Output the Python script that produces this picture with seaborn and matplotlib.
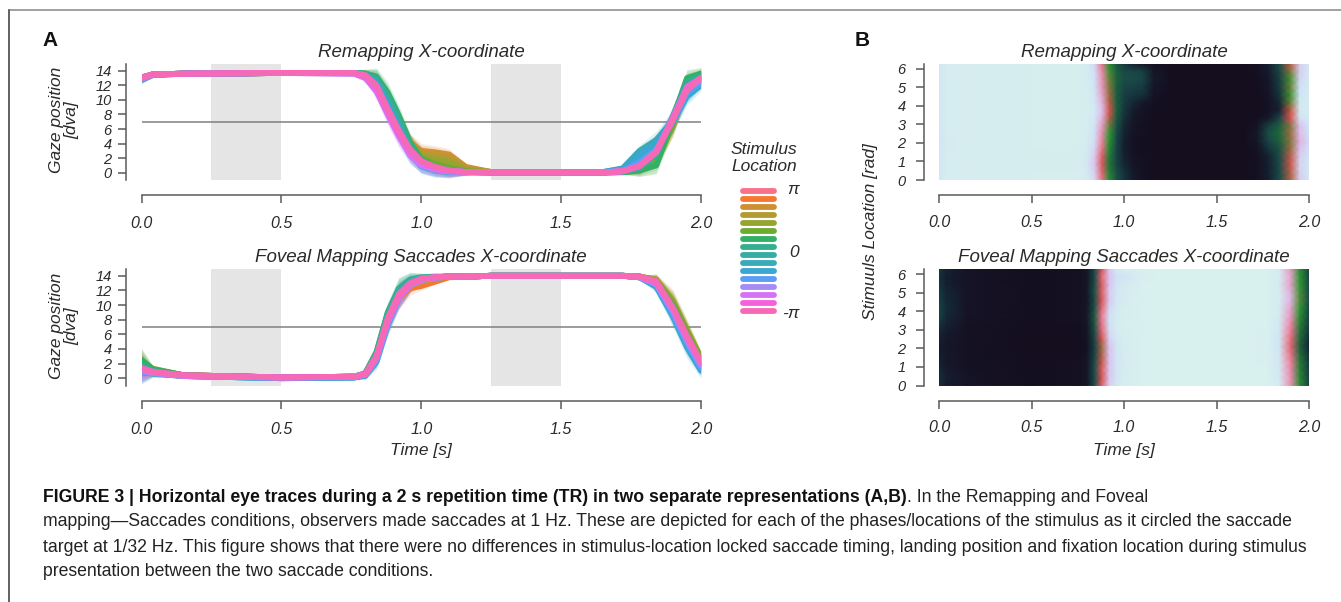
import numpy as np
import pandas as pd
import matplotlib
matplotlib.use("Agg")
import matplotlib.pyplot as plt
import seaborn as sns
from matplotlib.colors import LinearSegmentedColormap
from matplotlib.lines import Line2D

# ---------------- data ----------------
time_s = [0.00, 0.04, 0.15, 0.50, 0.76, 0.80, 0.84, 0.88, 0.92, 0.96, 1.00,
          1.05, 1.10, 1.16, 1.25, 1.65, 1.72, 1.78, 1.84, 1.90, 1.95, 2.00]

# stimulus location (rad) of each trace, from pi (top of legend) to -pi
stim_location = [3.14, 2.72, 2.30, 1.88, 1.47, 1.05, 0.63, 0.21,
                 -0.21, -0.63, -1.05, -1.47, -1.88, -2.30, -2.72, -3.14]
legend_ticks = ["\u03c0", "0", "-\u03c0"]

remap_traces = [
    [13.0,13.5,13.6,13.7,13.7,13.4,12.0,8.8,5.8,3.4,1.8,0.9,0.4,0.15,0.05,0.05,0.2,0.9,3.0,7.5,11.5,13.0],
    [13.1,13.5,13.6,13.7,13.7,13.5,12.3,9.5,6.5,4.0,2.8,2.6,2.3,0.6,0.1,0.05,0.2,0.8,2.6,7.0,11.5,13.2],
    [13.1,13.5,13.6,13.7,13.7,13.5,12.4,9.7,6.8,4.2,3.0,2.8,2.5,0.8,0.1,0.05,0.1,0.6,2.2,6.5,11.8,13.3],
    [13.0,13.5,13.6,13.7,13.7,13.5,12.5,9.8,7.0,4.0,2.6,2.3,2.0,0.5,0.1,0.05,0.1,0.5,2.0,6.8,12.2,13.4],
    [13.0,13.5,13.6,13.7,13.7,13.6,12.8,10.2,7.2,4.0,2.2,1.8,1.5,0.4,0.05,0.05,0.1,0.4,1.6,6.5,12.4,13.5],
    [13.0,13.5,13.6,13.7,13.7,13.6,13.0,10.5,7.4,4.0,2.0,1.2,0.7,0.2,0.05,0.05,0.1,0.3,1.2,6.8,12.8,13.6],
    [13.0,13.5,13.6,13.7,13.7,13.6,13.2,11.0,7.8,4.2,1.8,0.8,0.4,0.1,0.05,0.05,0.05,0.3,1.0,7.5,13.0,13.6],
    [13.0,13.5,13.6,13.7,13.7,13.6,13.0,10.6,7.4,3.8,1.5,0.6,0.3,0.1,0.05,0.05,0.1,0.6,2.5,7.8,12.5,13.3],
    [13.0,13.5,13.6,13.7,13.7,13.5,12.6,10.0,6.8,3.2,1.2,0.5,0.2,0.1,0.05,0.05,0.4,2.2,4.0,7.0,11.0,12.8],
    [12.9,13.5,13.6,13.7,13.7,13.5,12.4,9.5,6.2,2.8,1.0,0.4,0.2,0.1,0.05,0.1,0.6,3.0,4.5,7.2,10.8,12.5],
    [12.7,13.4,13.6,13.7,13.7,13.4,12.2,9.2,6.0,2.6,0.9,0.3,0.1,0.05,0.05,0.1,0.5,2.5,4.0,7.0,10.5,12.0],
    [12.8,13.4,13.6,13.7,13.7,13.3,11.8,8.8,5.6,2.5,0.9,0.3,0.1,0.05,0.05,0.05,0.3,1.5,3.2,7.2,11.0,12.4],
    [12.9,13.5,13.6,13.7,13.6,13.1,11.4,8.2,5.2,2.4,1.0,0.4,0.2,0.1,0.05,0.05,0.2,1.0,3.0,7.5,11.5,12.8],
    [13.0,13.5,13.6,13.7,13.6,13.0,11.2,8.0,5.0,2.5,1.1,0.5,0.2,0.1,0.05,0.05,0.2,0.9,2.8,7.6,11.8,13.0],
    [13.0,13.5,13.6,13.7,13.7,13.2,11.6,8.4,5.4,3.0,1.5,0.7,0.3,0.1,0.05,0.05,0.2,0.9,2.8,7.4,11.6,13.0],
    [13.0,13.5,13.6,13.7,13.7,13.4,12.0,8.8,5.8,3.2,1.6,0.8,0.3,0.1,0.05,0.05,0.2,0.9,2.9,7.3,11.4,13.0],
]
remap_band = [0.5,0.2,0.1,0.1,0.2,0.6,1.2,1.5,1.5,1.2,1.0,0.9,0.8,0.4,0.1,0.1,0.3,0.8,1.2,1.5,1.2,0.8]

foveal_traces = [
    [1.8,1.0,0.4,0.1,0.2,0.5,2.8,7.8,11.2,12.9,13.6,13.8,13.9,13.9,14.0,14.0,14.0,13.9,13.2,9.8,5.8,2.4],
    [1.5,0.9,0.4,0.1,0.2,0.5,2.6,8.5,11.0,12.3,12.6,13.2,13.8,13.9,14.0,14.0,14.0,13.9,13.4,10.2,6.0,2.5],
    [1.6,0.9,0.4,0.1,0.2,0.6,3.0,8.0,11.0,12.6,13.2,13.6,13.9,13.9,14.0,14.0,14.0,13.9,13.3,10.0,6.2,2.6],
    [2.0,1.1,0.4,0.1,0.2,0.6,3.2,8.2,11.4,12.8,13.4,13.7,13.9,13.9,14.0,14.0,14.0,13.9,13.4,10.4,6.4,2.7],
    [2.2,1.2,0.4,0.1,0.2,0.5,2.8,7.9,11.3,12.9,13.5,13.8,13.9,13.9,14.0,14.0,14.0,13.9,13.5,10.6,6.6,2.8],
    [2.4,1.3,0.4,0.1,0.2,0.6,3.2,8.4,11.8,13.2,13.7,13.8,13.9,13.9,14.0,14.0,14.0,13.9,13.3,10.1,6.2,2.5],
    [2.5,1.2,0.4,0.1,0.2,0.7,3.6,9.0,12.2,13.4,13.7,13.8,13.9,13.9,14.0,14.0,14.0,13.9,13.2,9.8,5.8,2.2],
    [1.8,1.0,0.3,0.1,0.2,0.6,3.4,8.8,12.3,13.5,13.8,13.9,13.9,13.9,14.0,14.0,14.0,13.9,13.0,9.4,5.4,2.0],
    [1.2,0.8,0.3,0.0,0.1,0.5,3.0,8.4,12.0,13.4,13.7,13.8,13.9,13.9,14.0,14.0,14.0,13.8,12.8,9.0,5.0,1.6],
    [1.0,0.7,0.3,0.0,0.1,0.4,2.6,7.8,11.6,13.1,13.6,13.8,13.9,13.9,14.0,14.0,14.0,13.8,12.6,8.6,4.6,1.3],
    [0.8,0.6,0.3,0.0,0.1,0.3,2.2,7.2,11.0,12.8,13.5,13.8,13.9,13.9,14.0,14.0,14.0,13.8,12.5,8.4,4.2,1.0],
    [0.9,0.7,0.3,0.0,0.1,0.4,2.4,7.4,11.0,12.8,13.5,13.8,13.9,13.9,14.0,14.0,14.0,13.8,12.8,8.8,4.8,1.4],
    [1.0,0.7,0.3,0.1,0.2,0.5,2.8,7.6,11.0,12.7,13.4,13.7,13.9,13.9,14.0,14.0,14.0,13.8,12.9,9.2,5.2,1.8],
    [1.2,0.8,0.3,0.1,0.2,0.6,3.0,8.0,11.2,12.8,13.5,13.8,13.9,13.9,14.0,14.0,14.0,13.9,13.0,9.4,5.4,2.0],
    [1.4,0.9,0.4,0.1,0.2,0.5,2.8,7.8,11.2,12.9,13.6,13.8,13.9,13.9,14.0,14.0,14.0,13.9,13.1,9.6,5.6,2.2],
    [1.3,0.8,0.4,0.1,0.2,0.5,3.0,8.2,11.5,13.0,13.6,13.8,13.9,13.9,14.0,14.0,14.0,13.9,13.3,9.6,5.8,2.3],
]
foveal_band = [1.6,0.5,0.2,0.1,0.2,0.5,1.0,1.5,1.5,1.0,0.6,0.3,0.2,0.1,0.1,0.1,0.1,0.2,0.8,1.5,1.5,1.0]

fixation_windows = [(0.25, 0.5), (1.25, 1.5)]
midline_dva = 7

caption_bold = ("FIGURE 3 | Horizontal eye traces during a 2 s repetition time (TR) "
                "in two separate representations (A,B)")
caption_rest1 = ". In the Remapping and Foveal"
caption_lines = [
    "mapping\u2014Saccades conditions, observers made saccades at 1 Hz. These are depicted for each "
    "of the phases/locations of the stimulus as it circled the saccade",
    "target at 1/32 Hz. This figure shows that there were no differences in stimulus-location locked "
    "saccade timing, landing position and fixation location during stimulus",
    "presentation between the two saccade conditions.",
]

# ---------------- style ----------------
sns.set_style("ticks")
plt.rcParams["font.family"] = ["Liberation Sans", "DejaVu Sans"]
plt.rcParams["axes.edgecolor"] = "#5a5a5a"
plt.rcParams["axes.linewidth"] = 1.1

W, H = 1341, 602
fig = plt.figure(figsize=(W / 100, H / 100), dpi=100)


def px_axes(x0, y0, x1, y1):
    return fig.add_axes([x0 / W, 1 - y1 / H, (x1 - x0) / W, (y1 - y0) / H])


def fx(x):
    return x / W


def fy(y):
    return 1 - y / H


palette = sns.husl_palette(len(stim_location), h=0.01, s=0.9, l=0.65)
loc_names = [f"loc{k:02d}" for k in range(len(stim_location))]
TXT = "#2a2a2a"


def style_axes(ax, xpad=9, ypad=4.5):
    sns.despine(ax=ax, offset=11)
    ax.tick_params(axis="both", direction="out", length=6, width=1.1, color="#5a5a5a",
                   labelcolor=TXT)
    ax.tick_params(axis="x", pad=xpad, labelsize=11.5)
    ax.tick_params(axis="y", pad=ypad, labelsize=10.5)
    for lab in ax.get_xticklabels() + ax.get_yticklabels():
        lab.set_fontstyle("italic")


def trace_panel(ax, traces, band, title):
    for a, b in fixation_windows:
        ax.axvspan(a, b, color="#e5e5e5", lw=0, zorder=0.5)
    ax.axhline(midline_dva, color="#808080", lw=1.1, zorder=1)
    t = np.array(time_s)
    bd = np.array(band)
    for k, tr in enumerate(traces):
        y = np.array(tr)
        ax.fill_between(t, y - bd, y + bd, color=palette[k], alpha=0.16, lw=0, zorder=2)
    df = pd.DataFrame({
        "time": np.tile(t, len(traces)),
        "gaze": np.concatenate([np.array(tr) for tr in traces]),
        "location": np.repeat(loc_names, len(t)),
    })
    sns.lineplot(data=df, x="time", y="gaze", hue="location", hue_order=loc_names,
                 palette=palette, lw=4.2, legend=False, errorbar=None, sort=False,
                 estimator=None, ax=ax, zorder=3)
    for ln in ax.lines[1:]:
        ln.set_solid_capstyle("round")
        ln.set_solid_joinstyle("round")
    ax.set_xlim(0, 2)
    ax.set_ylim(-1, 15)
    ax.set_xticks([0, 0.5, 1.0, 1.5, 2.0])
    ax.set_xticklabels(["0.0", "0.5", "1.0", "1.5", "2.0"])
    ax.set_yticks(range(0, 15, 2))
    ax.set_xlabel("")
    ax.set_ylabel("")
    ax.set_title(title, fontsize=13.5, style="italic", color=TXT, pad=5)
    style_axes(ax)


cmap = LinearSegmentedColormap.from_list("gaze", [
    (0.00, "#140e1f"), (0.05, "#16192b"), (0.10, "#14303a"), (0.20, "#1a4a48"),
    (0.33, "#1f6a3a"), (0.45, "#2f9c30"), (0.55, "#d8504c"), (0.65, "#f07c9a"),
    (0.77, "#dcbcec"), (0.88, "#cfe2f6"), (1.00, "#d8f0ee")])


def heat_panel(ax, traces, title):
    yloc = np.array(stim_location) + np.pi
    order = np.argsort(yloc)
    Tg, Yg = np.meshgrid(np.array(time_s), yloc[order])
    ax.pcolormesh(Tg, Yg, np.array(traces)[order], shading="gouraud", cmap=cmap,
                  vmin=0, vmax=14, rasterized=True)
    ax.set_xlim(0, 2)
    ax.set_ylim(yloc.min(), yloc.max())
    ax.set_xticks([0, 0.5, 1.0, 1.5, 2.0])
    ax.set_xticklabels(["0.0", "0.5", "1.0", "1.5", "2.0"])
    ax.set_yticks(range(0, 7))
    ax.set_title(title, fontsize=13.5, style="italic", color=TXT, pad=5)
    style_axes(ax, xpad=8, ypad=7)


# ---------------- panel A ----------------
axA1 = px_axes(141.5, 63.5, 701, 180)
trace_panel(axA1, remap_traces, remap_band, "Remapping X-coordinate")
axA2 = px_axes(141.5, 268.5, 701, 385.5)
trace_panel(axA2, foveal_traces, foveal_band, "Foveal Mapping Saccades X-coordinate")

for yc in (120, 326):
    fig.text(fx(64), fy(yc), "Gaze position\n[dva]", rotation=90, ha="center", va="center",
             fontsize=12.5, style="italic", color=TXT, linespacing=1.05)
fig.text(fx(421), fy(451), "Time [s]", ha="center", va="center", fontsize=12.5,
         style="italic", color=TXT)

# legend
axL = px_axes(735, 187, 782, 315)
for k in range(len(stim_location)):
    axL.plot([0.16, 0.84], [k, k], color=palette[k], lw=4.2, solid_capstyle="round")
axL.set_xlim(0, 1)
axL.set_ylim(len(stim_location) - 0.5, -0.5)
axL.axis("off")
fig.text(fx(764), fy(158), "Stimulus\nLocation", ha="center", va="center", fontsize=12.5,
         style="italic", color=TXT, linespacing=1.15)
for lab, yc in zip(legend_ticks, (189, 253, 314)):
    fig.text(fx(799), fy(yc), lab, ha="right", va="center", fontsize=12.5,
             style="italic", color=TXT)

# ---------------- panel B ----------------
axB1 = px_axes(939, 63.5, 1309, 180)
heat_panel(axB1, remap_traces, "Remapping X-coordinate")
axB2 = px_axes(939, 269, 1309, 385.5)
heat_panel(axB2, foveal_traces, "Foveal Mapping Saccades X-coordinate")
fig.text(fx(870), fy(232), "Stimuuls Location [rad]", rotation=90, ha="center", va="center",
         fontsize=12.5, style="italic", color=TXT)
fig.text(fx(1124), fy(451), "Time [s]", ha="center", va="center", fontsize=12.5,
         style="italic", color=TXT)

# panel letters
fig.text(fx(50), fy(40), "A", ha="center", va="center", fontsize=15, weight="bold", color="#111")
fig.text(fx(862), fy(41), "B", ha="center", va="center", fontsize=15, weight="bold", color="#111")

# frame
fig.add_artist(Line2D([fx(9), 1], [fy(10), fy(10)], color="#999999", lw=1.3))
fig.add_artist(Line2D([fx(9), fx(9)], [0, fy(10)], color="#555555", lw=1.3))

# ---------------- caption ----------------
renderer = fig.canvas.get_renderer()
cap_size = 12.0
probe = fig.text(fx(43), fy(522), caption_lines[0], fontsize=cap_size, ha="left",
                 va="center", color="#222222")
wline = probe.get_window_extent(renderer).width
cap_size = cap_size * 1255 / wline
probe.set_fontsize(cap_size)
tb = fig.text(fx(43), fy(497), caption_bold, fontsize=cap_size, weight="bold", ha="left",
              va="center", color="#111111")
bb = tb.get_window_extent(renderer)
fig.text(bb.x1 / W, fy(497), caption_rest1, fontsize=cap_size, ha="left", va="center",
         color="#222222")
fig.text(fx(43), fy(547), caption_lines[1], fontsize=cap_size, ha="left", va="center",
         color="#222222")
fig.text(fx(43), fy(572), caption_lines[2], fontsize=cap_size, ha="left", va="center",
         color="#222222")

fig.savefig("out.png", dpi=100)
